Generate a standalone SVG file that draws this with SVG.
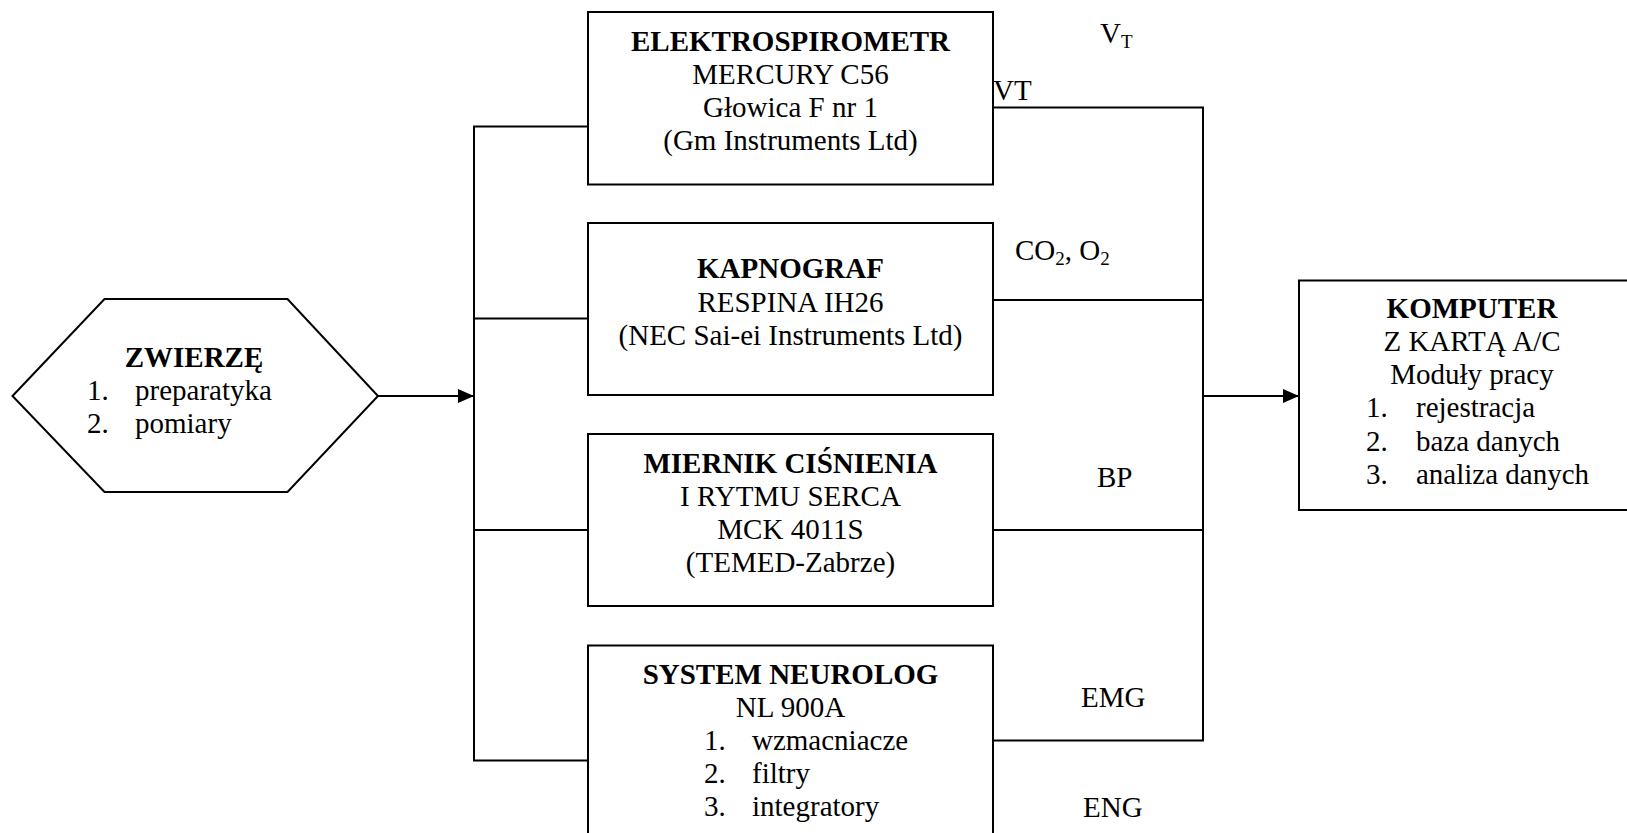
<svg xmlns="http://www.w3.org/2000/svg" width="1627" height="833" viewBox="0 0 1627 833">
  <style>
    .shape { fill: #ffffff; stroke: #000000; stroke-width: 2; }
    .wire { fill: none; stroke: #000000; stroke-width: 2; }
    text { font-family: "Liberation Serif", "Times New Roman", serif; font-size: 29px; fill: #000000; }
    .title { font-weight: bold; }
    .c { text-anchor: middle; }
    .sub { font-size: 19px; }
  </style>
  <defs>
    <marker id="arrow" viewBox="0 0 16 14" refX="16" refY="7" markerWidth="16" markerHeight="14" markerUnits="userSpaceOnUse" orient="auto">
      <path d="M0,0 L16,7 L0,14 Z" fill="#000000"/>
    </marker>
  </defs>

  <rect width="1627" height="833" fill="#ffffff"/>

  <!-- connectors -->
  <g id="connectors">
    <!-- animal to distribution bus -->
    <line class="wire" x1="378" y1="396" x2="474" y2="396" marker-end="url(#arrow)"/>
    <!-- left bus feeding the instruments -->
    <line class="wire" x1="474" y1="126.5" x2="474" y2="760.5"/>
    <line class="wire" x1="473" y1="126.5" x2="588" y2="126.5"/>
    <line class="wire" x1="474" y1="318.5" x2="588" y2="318.5"/>
    <line class="wire" x1="474" y1="530" x2="588" y2="530"/>
    <line class="wire" x1="473" y1="760.5" x2="588" y2="760.5"/>
    <!-- right bus collecting signals -->
    <line class="wire" x1="993" y1="107.5" x2="1204" y2="107.5"/>
    <line class="wire" x1="1203" y1="107.5" x2="1203" y2="740.5"/>
    <line class="wire" x1="993" y1="300" x2="1203" y2="300"/>
    <line class="wire" x1="993" y1="530" x2="1203" y2="530"/>
    <line class="wire" x1="993" y1="740.5" x2="1204" y2="740.5"/>
    <!-- bus to computer -->
    <line class="wire" x1="1203" y1="396" x2="1299" y2="396" marker-end="url(#arrow)"/>
  </g>

  <!-- signal labels -->
  <g id="labels">
    <text x="1100" y="43">V<tspan class="sub" dy="5">T</tspan></text>
    <text x="993" y="100">VT</text>
    <text x="1015" y="260">CO<tspan class="sub" dy="5">2</tspan><tspan dy="-5">, O</tspan><tspan class="sub" dy="5">2</tspan></text>
    <text x="1097" y="487">BP</text>
    <text x="1081" y="707">EMG</text>
    <text x="1083" y="817">ENG</text>
  </g>

  <g id="zwierze">
    <polygon class="shape" points="12.5,396 104.5,299 287.5,299 378,396 287.5,492 104.5,492"/>
    <text class="title c" x="194" y="367">ZWIERZĘ</text>
    <text x="87" y="400">1.</text><text x="135" y="400">preparatyka</text>
    <text x="87" y="433">2.</text><text x="135" y="433">pomiary</text>
  </g>

  <g id="elektrospirometr">
    <rect class="shape" x="588" y="12" width="405" height="172.5"/>
    <text class="title c" x="790.5" y="50.5">ELEKTROSPIROMETR</text>
    <text class="c" x="790.5" y="83.5">MERCURY C56</text>
    <text class="c" x="790.5" y="116.5">Głowica F nr 1</text>
    <text class="c" x="790.5" y="149.5">(Gm Instruments Ltd)</text>
  </g>

  <g id="kapnograf">
    <rect class="shape" x="588" y="223" width="405" height="172"/>
    <text class="title c" x="790.5" y="278">KAPNOGRAF</text>
    <text class="c" x="790.5" y="311.5">RESPINA IH26</text>
    <text class="c" x="790.5" y="345">(NEC Sai-ei Instruments Ltd)</text>
  </g>

  <g id="miernik">
    <rect class="shape" x="588" y="434" width="405" height="172"/>
    <text class="title c" x="790.5" y="473">MIERNIK CIŚNIENIA</text>
    <text class="c" x="790.5" y="506">I RYTMU SERCA</text>
    <text class="c" x="790.5" y="539">MCK 4011S</text>
    <text class="c" x="790.5" y="572">(TEMED-Zabrze)</text>
  </g>

  <g id="neurolog">
    <rect class="shape" x="588" y="645.5" width="405" height="210"/>
    <text class="title c" x="790.5" y="684">SYSTEM NEUROLOG</text>
    <text class="c" x="790.5" y="717">NL 900A</text>
    <text x="704" y="750">1.</text><text x="752" y="750">wzmacniacze</text>
    <text x="704" y="783">2.</text><text x="752" y="783">filtry</text>
    <text x="704" y="816">3.</text><text x="752" y="816">integratory</text>
  </g>

  <g id="komputer">
    <rect class="shape" x="1299" y="280.5" width="345" height="229.5"/>
    <text class="title c" x="1472" y="318">KOMPUTER</text>
    <text class="c" x="1472" y="351">Z KARTĄ A/C</text>
    <text class="c" x="1472" y="384">Moduły pracy</text>
    <text x="1366" y="417">1.</text><text x="1416" y="417">rejestracja</text>
    <text x="1366" y="451">2.</text><text x="1416" y="451">baza danych</text>
    <text x="1366" y="484">3.</text><text x="1416" y="484">analiza danych</text>
  </g>
</svg>
